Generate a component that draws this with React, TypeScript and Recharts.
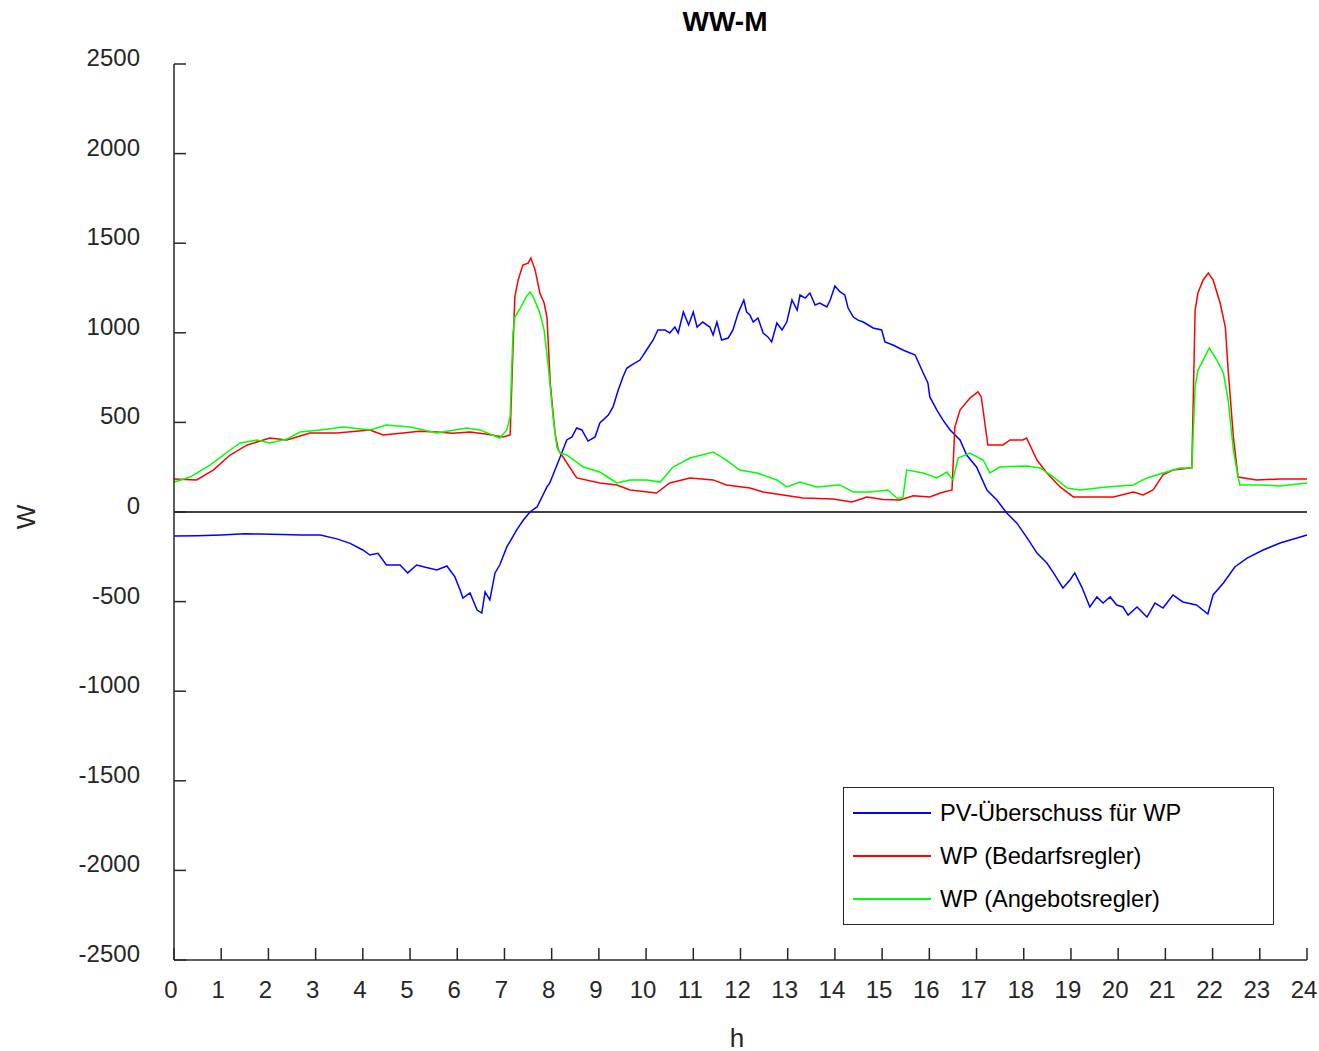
import { LineChart, Line, XAxis, YAxis, ReferenceLine } from 'recharts'

// hours / watts, one pair of arrays per series
const pvHours = [
  0, 0.5, 1.0, 1.5, 1.82, 2.3, 2.7, 3.1, 3.45, 3.73, 4.0, 4.15, 4.32, 4.5, 4.79, 4.95, 5.14, 5.35,
  5.57, 5.78, 5.95, 6.06, 6.12, 6.27, 6.42, 6.52, 6.59, 6.69, 6.8, 6.9, 7.05, 7.26, 7.4, 7.54, 7.69,
  7.9, 7.96, 8.18, 8.32, 8.43, 8.53, 8.64, 8.77, 8.92, 9.02, 9.2, 9.3, 9.41, 9.51, 9.59, 9.69, 9.87,
  10.01, 10.15, 10.25, 10.4, 10.5, 10.61, 10.68, 10.79, 10.9, 11.0, 11.08, 11.2, 11.35, 11.42, 11.5,
  11.6, 11.74, 11.84, 11.95, 12.07, 12.13, 12.2, 12.27, 12.37, 12.48, 12.58, 12.66, 12.77, 12.88,
  12.98, 13.09, 13.2, 13.26, 13.37, 13.47, 13.58, 13.68, 13.83, 13.9, 14.0, 14.11, 14.21, 14.28,
  14.39, 14.49, 14.6, 14.81, 14.99, 15.06, 15.23, 15.44, 15.7, 15.87, 15.97, 16.01, 16.16, 16.29,
  16.44, 16.65, 16.79, 17.0, 17.22, 17.43, 17.64, 17.85, 18.06, 18.28, 18.49, 18.63, 18.83, 18.98,
  19.08, 19.23, 19.4, 19.55, 19.68, 19.83, 19.97, 20.1, 20.21, 20.4, 20.61, 20.78, 20.95, 21.16,
  21.37, 21.66, 21.9, 22.01, 22.23, 22.47, 22.73, 23.07, 23.43, 24,
]
const pvValues = [
  -134, -132, -128, -122, -123, -125, -128, -128, -150, -175, -212, -240, -230, -296, -296, -340,
  -296, -310, -323, -301, -362, -435, -480, -452, -547, -564, -446, -491, -340, -296, -195, -100, -45,
  0, 28, 140, 162, 307, 402, 419, 469, 458, 396, 419, 497, 541, 586, 681, 753, 802, 820, 848, 904,
  960, 1016, 1016, 999, 1032, 999, 1116, 1044, 1116, 1032, 1060, 1032, 988, 1060, 960, 971, 1016,
  1110, 1183, 1116, 1099, 1060, 1083, 999, 977, 949, 1055, 1016, 1060, 1183, 1127, 1211, 1194, 1222,
  1155, 1166, 1144, 1183, 1261, 1228, 1211, 1138, 1088, 1071, 1060, 1027, 1016, 949, 932, 904, 876,
  776, 720, 642, 569, 513, 458, 402, 318, 251, 123, 67, -6, -61, -140, -229, -285, -340, -424, -379,
  -340, -419, -530, -474, -508, -474, -519, -530, -575, -530, -586, -508, -536, -463, -502, -519,
  -569, -463, -396, -307, -257, -212, -173, -128,
]

const bedarfHours = [
  0, 0.48, 0.83, 1.19, 1.55, 2.03, 2.39, 2.88, 3.45, 4.15, 4.43, 4.85, 5.2, 5.57, 5.9, 6.27, 6.6,
  6.97, 7.12, 7.18, 7.22, 7.29, 7.39, 7.5, 7.56, 7.65, 7.75, 7.84, 7.9, 7.97, 8.07, 8.14, 8.24, 8.53,
  9.02, 9.38, 9.66, 10.22, 10.5, 10.93, 11.42, 11.7, 12.2, 12.48, 12.9, 13.33, 13.96, 14.36, 14.68,
  15.02, 15.38, 15.66, 16.01, 16.23, 16.48, 16.54, 16.65, 16.86, 17.03, 17.1, 17.24, 17.56, 17.71,
  17.98, 18.06, 18.28, 18.49, 18.77, 19.05, 19.55, 19.9, 20.32, 20.53, 20.74, 20.95, 21.16, 21.52,
  21.56, 21.63, 21.69, 21.8, 21.91, 22.01, 22.16, 22.27, 22.33, 22.44, 22.54, 22.93, 23.43, 24,
]
const bedarfValues = [
  184, 179, 234, 318, 374, 413, 402, 441, 441, 458, 430, 441, 450, 446, 440, 446, 435, 419, 430, 904,
  1200, 1295, 1378, 1389, 1417, 1350, 1222, 1166, 1088, 720, 441, 346, 307, 190, 162, 151, 123, 106,
  162, 190, 179, 151, 134, 112, 95, 78, 73, 56, 84, 70, 67, 90, 84, 106, 123, 474, 569, 636, 670, 642,
  374, 374, 402, 402, 413, 290, 218, 140, 84, 84, 84, 112, 95, 123, 207, 234, 246, 246, 1127, 1222,
  1295, 1334, 1295, 1166, 1032, 792, 419, 195, 179, 184, 184,
]

const angebotHours = [
  0, 0.34, 0.76, 1.19, 1.4, 1.76, 2.03, 2.39, 2.67, 3.1, 3.58, 4.15, 4.5, 5.0, 5.57, 6.2, 6.48, 6.9,
  7.05, 7.12, 7.18, 7.22, 7.35, 7.46, 7.54, 7.61, 7.75, 7.84, 7.93, 8.03, 8.11, 8.18, 8.32, 8.67,
  9.02, 9.38, 9.66, 10.02, 10.3, 10.57, 10.93, 11.42, 11.7, 11.98, 12.35, 12.77, 12.98, 13.26, 13.61,
  14.1, 14.39, 14.74, 15.12, 15.31, 15.44, 15.52, 15.87, 16.16, 16.37, 16.5, 16.61, 16.86, 17.14,
  17.28, 17.49, 18.06, 18.35, 18.63, 18.92, 19.19, 19.76, 20.32, 20.61, 20.95, 21.31, 21.56, 21.63,
  21.69, 21.8, 21.93, 22.09, 22.23, 22.33, 22.44, 22.54, 22.58, 23.07, 23.43, 24,
]
const angebotValues = [
  167, 195, 262, 346, 385, 402, 385, 407, 446, 458, 474, 458, 485, 474, 441, 469, 458, 413, 458, 530,
  999, 1088, 1144, 1200, 1228, 1200, 1110, 1016, 809, 530, 363, 329, 318, 251, 223, 162, 179, 179,
  167, 251, 301, 335, 290, 234, 218, 179, 140, 167, 140, 151, 112, 112, 123, 78, 78, 234, 218, 190,
  223, 179, 301, 329, 290, 218, 251, 257, 246, 195, 134, 123, 140, 151, 190, 218, 246, 246, 698, 792,
  848, 915, 848, 776, 625, 346, 195, 151, 151, 145, 162,
]

const hourTicks = Array.from({ length: 25 }, (_, i) => i)
const wattTicks = [-2500, -2000, -1500, -1000, -500, 0, 500, 1000, 1500, 2000, 2500]

const legendItems = [
  { name: 'PV-Überschuss für WP', color: '#0000ff' },
  { name: 'WP (Bedarfsregler)', color: '#ff0000' },
  { name: 'WP (Angebotsregler)', color: '#00ff00' },
]

const toSeries = (hours: number[], values: number[]) =>
  hours.map((h, i) => ({ h, w: values[i] }))

const pvData = toSeries(pvHours, pvValues)
const bedarfData = toSeries(bedarfHours, bedarfValues)
const angebotData = toSeries(angebotHours, angebotValues)

const FONT = 'Arial, "Liberation Sans", Helvetica, sans-serif'
const AXIS_COLOR = '#262626'

function XTick({ x, y, payload }: any) {
  return (
    <g>
      <line x1={x} x2={x} y1={y} y2={y - 12} stroke={AXIS_COLOR} strokeWidth={1.5} />
      <text x={x - 3} y={y + 38} textAnchor="middle" fontSize={24} fontFamily={FONT} fill="#262626">
        {payload.value}
      </text>
    </g>
  )
}

function YTick({ x, y, payload }: any) {
  return (
    <g>
      <line x1={x} x2={x + 12} y1={y} y2={y} stroke={AXIS_COLOR} strokeWidth={1.5} />
      <text x={x - 34} y={y + 2} textAnchor="end" fontSize={24} fontFamily={FONT} fill="#262626">
        {payload.value}
      </text>
    </g>
  )
}

export default function App() {
  return (
    <div style={{ position: 'relative', width: 1319, height: 1051, fontFamily: FONT }}>
      <style>{'body { margin: 0; }'}</style>
      <LineChart
        width={1319}
        height={1051}
        margin={{ top: 64, right: 12, bottom: 31, left: 54 }}
      >
        <XAxis
          type="number"
          dataKey="h"
          domain={[0, 24]}
          ticks={hourTicks}
          interval={0}
          height={60}
          tickSize={0}
          tickMargin={0}
          tickLine={false}
          tick={<XTick />}
          axisLine={{ stroke: AXIS_COLOR, strokeWidth: 1.5 }}
          allowDuplicatedCategory={false}
        />
        <YAxis
          type="number"
          domain={[-2500, 2500]}
          ticks={wattTicks}
          interval={0}
          width={120}
          tickSize={0}
          tickMargin={0}
          tickLine={false}
          tick={<YTick />}
          axisLine={{ stroke: AXIS_COLOR, strokeWidth: 1.5 }}
        />
        <ReferenceLine y={0} stroke="#000000" strokeWidth={1.5} />
        <Line
          data={pvData}
          dataKey="w"
          type="linear"
          stroke="#0000ff"
          strokeWidth={1.5}
          dot={false}
          isAnimationActive={false}
        />
        <Line
          data={bedarfData}
          dataKey="w"
          type="linear"
          stroke="#ff0000"
          strokeWidth={1.5}
          dot={false}
          isAnimationActive={false}
        />
        <Line
          data={angebotData}
          dataKey="w"
          type="linear"
          stroke="#00ff00"
          strokeWidth={1.5}
          dot={false}
          isAnimationActive={false}
        />
      </LineChart>

      <div
        style={{
          position: 'absolute',
          left: 0,
          top: 7,
          width: 1450,
          textAlign: 'center',
          fontSize: 28,
          fontWeight: 'bold',
          lineHeight: '30px',
          color: '#000',
        }}
      >
        WW-M
      </div>
      <div
        style={{
          position: 'absolute',
          left: 26 - 20,
          top: 517 - 15,
          width: 40,
          height: 30,
          lineHeight: '30px',
          textAlign: 'center',
          fontSize: 26,
          color: '#262626',
          transform: 'rotate(-90deg)',
        }}
      >
        W
      </div>
      <div
        style={{
          position: 'absolute',
          left: 737 - 20,
          top: 1038 - 13,
          width: 40,
          height: 26,
          lineHeight: '26px',
          textAlign: 'center',
          fontSize: 26,
          color: '#262626',
        }}
      >
        h
      </div>

      <div
        style={{
          position: 'absolute',
          left: 843,
          top: 787,
          width: 431,
          height: 138,
          boxSizing: 'border-box',
          border: '1.5px solid #262626',
          background: '#fff',
        }}
      >
        {legendItems.map((item, i) => (
          <div
            key={item.name}
            style={{
              position: 'absolute',
              left: 0,
              top: 25 + i * 43 - 15,
              height: 30,
              display: 'flex',
              alignItems: 'center',
            }}
          >
            <div
              style={{
                marginLeft: 9,
                width: 78,
                height: 1.5,
                background: item.color,
              }}
            />
            <span style={{ marginLeft: 9, fontSize: 23.6, color: '#000', whiteSpace: 'nowrap' }}>
              {item.name}
            </span>
          </div>
        ))}
      </div>
    </div>
  )
}
